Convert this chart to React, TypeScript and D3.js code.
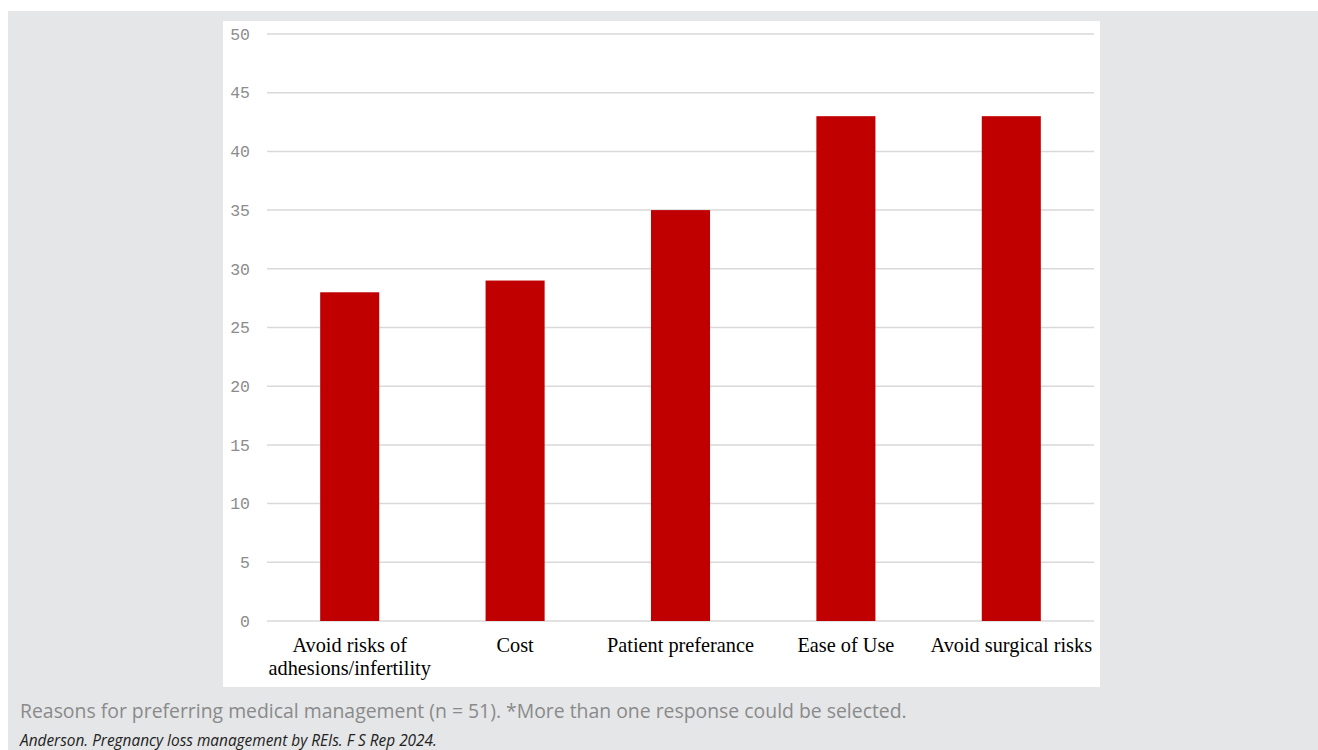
import * as d3 from "d3"

const categories = [
  ["Avoid risks of", "adhesions/infertility"],
  ["Cost"],
  ["Patient preferance"],
  ["Ease of Use"],
  ["Avoid surgical risks"],
]
const counts = [28, 29, 35, 43, 43]
const yTicks = [0, 5, 10, 15, 20, 25, 30, 35, 40, 45, 50]
const caption =
  "Reasons for preferring medical management (n = 51). *More than one response could be selected."
const citation = "Anderson. Pregnancy loss management by REIs. F S Rep 2024."

const W = 1318
const H = 750

export default function App() {
  const x = d3
    .scaleBand<number>()
    .domain(d3.range(categories.length))
    .range([267, 1094])
  const y = d3.scaleLinear().domain([0, 50]).range([621, 34])
  const barW = x.bandwidth() * 0.357

  return (
    <svg
      width={W}
      height={H}
      style={{ position: "absolute", left: 0, top: 0 }}
    >
      <rect x={8} y={11} width={W - 8} height={H - 11} fill="#e5e6e8" />
      <rect x={223} y={21} width={877} height={666} fill="#ffffff" />

      {yTicks.map((t) => (
        <g key={t}>
          <line
            x1={267}
            x2={1094}
            y1={y(t)}
            y2={y(t)}
            stroke="#d9d9d9"
            strokeWidth={1.5}
          />
          <text
            x={250}
            y={y(t)}
            dy="0.35em"
            textAnchor="end"
            fontFamily="'Liberation Mono', monospace"
            fontSize={16.5}
            fill="#8c8c8c"
          >
            {t}
          </text>
        </g>
      ))}

      {counts.map((v, i) => (
        <rect
          key={i}
          x={x(i)! + (x.bandwidth() - barW) / 2}
          y={y(v)}
          width={barW}
          height={y(0) - y(v)}
          fill="#c00000"
        />
      ))}

      {categories.map((lines, i) => (
        <text
          key={i}
          textAnchor="middle"
          fontFamily="'Liberation Serif', serif"
          fontSize={20.3}
          fill="#000"
        >
          {lines.map((l, j) => (
            <tspan key={j} x={x(i)! + x.bandwidth() / 2} y={652 + j * 23}>
              {l}
            </tspan>
          ))}
        </text>
      ))}

      <text
        x={20}
        y={718}
        fontFamily="'Open Sans', sans-serif"
        fontSize={19.4}
        fill="#8a8a8a"
      >
        {caption}
      </text>
      <text
        x={20}
        y={746}
        fontFamily="'Open Sans', sans-serif"
        fontStyle="italic"
        fontSize={15.4}
        fill="#222"
      >
        {citation}
      </text>
    </svg>
  )
}
